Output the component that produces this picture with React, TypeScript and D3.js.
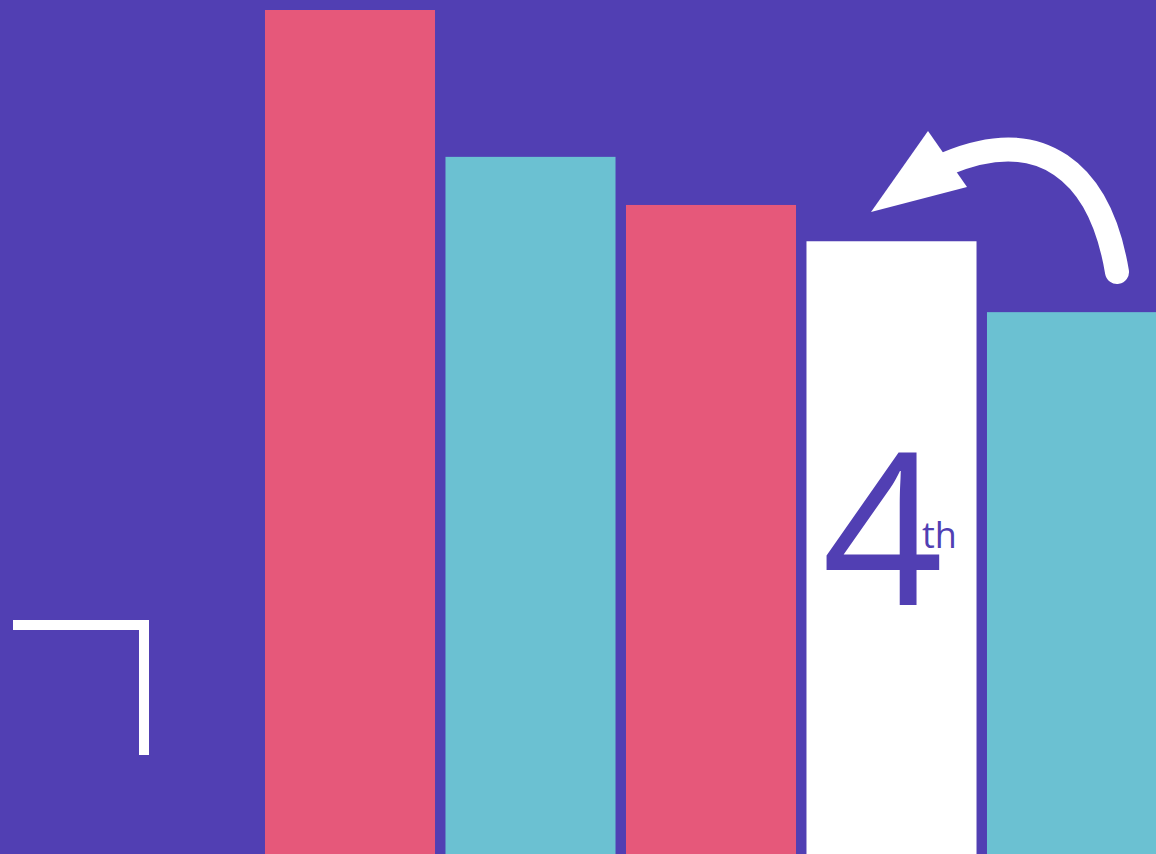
import React from "react";
import * as d3 from "d3";

const categories = ["1st", "2nd", "3rd", "4th", "5th"];
const values = [100, 82.6, 76.9, 72.6, 64.2];
const barColors = ["#E6587A", "#6BC1D2", "#E6587A", "#FFFFFF", "#6BC1D2"];
const highlightNumber = "4";
const highlightSuffix = "th";

const W = 1156;
const H = 854;
const BG = "#513FB3";

export default function App() {
  const x = d3
    .scaleBand<string>()
    .domain(categories)
    .range([259.75, 1162.25])
    .paddingInner(0.058)
    .paddingOuter(0.029);
  const y = d3.scaleLinear().domain([0, 100]).range([H, 10]);

  const hx = (x("4th") as number) + x.bandwidth() / 2;

  const arrowPath = "M1117,272 C1100,170 1040,125 948,163";

  return (
    <div style={{ position: "fixed", left: 0, top: 0, width: W, height: H }}>
      <svg width={W} height={H} style={{ display: "block" }}>
        <rect x={0} y={0} width={W} height={H} fill={BG} />
        {categories.map((c, i) => (
          <rect
            key={c}
            x={x(c)}
            y={y(values[i])}
            width={x.bandwidth()}
            height={H - y(values[i])}
            fill={barColors[i]}
          />
        ))}
        <text
          x={hx - 9}
          y={605}
          textAnchor="middle"
          fontFamily="'Open Sans', sans-serif"
          fontWeight={400}
          fontSize={212}
          fill={BG}
        >
          {highlightNumber}
        </text>
        <text
          x={922}
          y={548}
          fontFamily="'Open Sans', sans-serif"
          fontWeight={400}
          fontSize={36}
          fill={BG}
        >
          {highlightSuffix}
        </text>
        <path
          d={arrowPath}
          fill="none"
          stroke="#FFFFFF"
          strokeWidth={24}
          strokeLinecap="round"
        />
        <path d="M928,131 L871,212 L967,187 Z" fill="#FFFFFF" />
        <path
          d="M13,625 L144,625 L144,755"
          fill="none"
          stroke="#FFFFFF"
          strokeWidth={10}
        />
      </svg>
    </div>
  );
}
